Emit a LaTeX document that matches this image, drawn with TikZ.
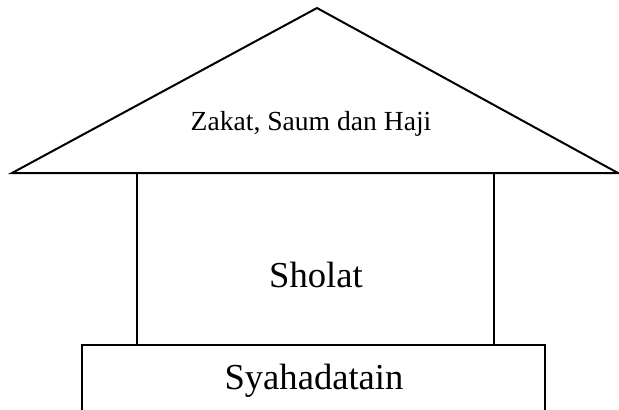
\documentclass[tikz,border=0pt]{standalone}
\usepackage{fontspec}
\setmainfont{Liberation Serif}

\begin{document}
\begin{tikzpicture}
  [x=0.5pt,y=-0.5pt,line width=1pt,
   every node/.style={inner sep=0pt,outer sep=0pt},
   block/.style={draw,rectangle,fill=none},
   small/.style={font=\fontsize{13.8}{16}\selectfont,anchor=base},
   big/.style={font=\fontsize{18.3}{22}\selectfont,anchor=base}]
  \useasboundingbox (0,0) rectangle (619,409);

  \coordinate (apex) at (317,8);
  \coordinate (eaveL) at (12,173);
  \coordinate (eaveR) at (618,173);

  \node[block,minimum width=178.5pt,minimum height=86pt] (wall) at (315.5,259) {};
  \node[block,minimum width=231.5pt,minimum height=42.5pt] (base) at (313.5,387.5) {};

  \draw (eaveL) -- (apex) -- (eaveR) -- cycle;

  \node[small] (roofText) at (311,130) {Zakat, Saum dan Haji};
  \node[big] (wallText) at (316,287) {Sholat};
  \node[big] (baseText) at (314,389) {Syahadatain};
\end{tikzpicture}
\end{document}
